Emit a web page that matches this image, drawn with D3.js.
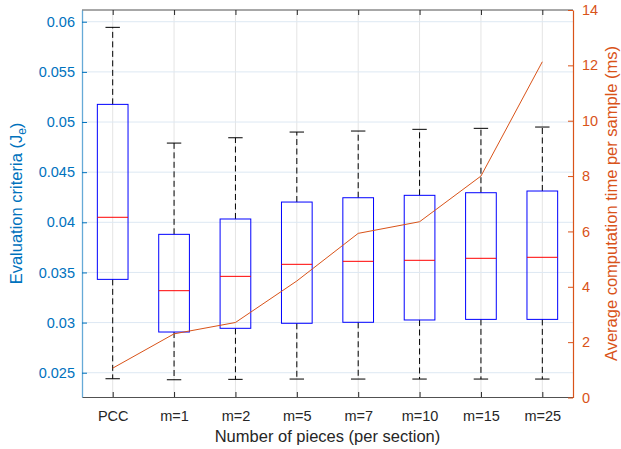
<!DOCTYPE html>
<html>
<head>
<meta charset="utf-8">
<script src="https://cdn.jsdelivr.net/npm/d3@7"></script>
<style>
  html, body { margin: 0; padding: 0; background: #fff; }
  svg { display: block; font-family: "Liberation Sans", Arial, Helvetica, sans-serif; }
</style>
</head>
<body>
<svg id="chart" width="621" height="449"></svg>
<script>
// Box statistics of the evaluation criterion for each piece count
const categories = ["PCC", "m=1", "m=2", "m=5", "m=7", "m=10", "m=15", "m=25"];
const whiskerLow = [0.02440, 0.02430, 0.02434, 0.02437, 0.02437, 0.02437, 0.02437, 0.02437];
const q1 = [0.03431, 0.02906, 0.02943, 0.02993, 0.03003, 0.03026, 0.03032, 0.03032];
const medians = [0.04050, 0.03318, 0.03461, 0.03581, 0.03611, 0.03621, 0.03641, 0.03651];
const q3 = [0.05176, 0.03880, 0.04033, 0.04202, 0.04245, 0.04269, 0.04295, 0.04312];
const whiskerHigh = [0.05944, 0.04790, 0.04843, 0.04900, 0.04910, 0.04927, 0.04937, 0.04950];
// Average computation time per sample (ms)
const compTime = [1.06, 2.30, 2.71, 4.21, 5.93, 6.35, 8.00, 12.13];
// Tick labels
const leftTicks = [0.025, 0.03, 0.035, 0.04, 0.045, 0.05, 0.055, 0.06];
const rightTicks = [0, 2, 4, 6, 8, 10, 12, 14];

const W = 621, H = 449;
const margin = { left: 82, right: 48, top: 10, bottom: 52 };
const x0 = margin.left, x1 = W - margin.right;
const y0 = margin.top, y1 = H - margin.bottom;

const leftColor = "#0072BD";
const rightColor = "#D95319";
const frameColor = "#262626";

const svg = d3.select("#chart");

const x = d3.scaleLinear().domain([0.5, categories.length + 0.5]).range([x0, x1]);
const yL = d3.scaleLinear().domain([0.02258, 0.06117]).range([y1, y0]);
const yR = d3.scaleLinear().domain([0, 14]).range([y1 + 0.5, y0]);

const idx = categories.map((_, i) => i + 1);

// Grid
const grid = svg.append("g");
grid.selectAll("line.v").data(idx).join("line")
  .attr("x1", d => x(d)).attr("x2", d => x(d))
  .attr("y1", y0).attr("y2", y1)
  .attr("stroke", "#e4e4e4").attr("stroke-width", 1);
grid.selectAll("line.h").data(leftTicks).join("line")
  .attr("x1", x0).attr("x2", x1)
  .attr("y1", d => yL(d)).attr("y2", d => yL(d))
  .attr("stroke", "#dde8f3").attr("stroke-width", 1);

// Boxes
const bw = (x(2) - x(1)) * 0.5;
const capW = bw * 0.47;
const boxes = svg.append("g");
idx.forEach((c, i) => {
  const cx = x(c);
  const g = boxes.append("g");
  // whiskers
  g.append("line").attr("x1", cx).attr("x2", cx)
    .attr("y1", yL(q3[i])).attr("y2", yL(whiskerHigh[i]))
    .attr("stroke", "#000").attr("stroke-width", 1).attr("stroke-dasharray", "6,3.5");
  g.append("line").attr("x1", cx).attr("x2", cx)
    .attr("y1", yL(q1[i])).attr("y2", yL(whiskerLow[i]))
    .attr("stroke", "#000").attr("stroke-width", 1).attr("stroke-dasharray", "6,3.5");
  // caps
  g.append("line").attr("x1", cx - capW / 2).attr("x2", cx + capW / 2)
    .attr("y1", yL(whiskerHigh[i])).attr("y2", yL(whiskerHigh[i]))
    .attr("stroke", "#000").attr("stroke-width", 1);
  g.append("line").attr("x1", cx - capW / 2).attr("x2", cx + capW / 2)
    .attr("y1", yL(whiskerLow[i])).attr("y2", yL(whiskerLow[i]))
    .attr("stroke", "#000").attr("stroke-width", 1);
  // box
  g.append("rect").attr("x", cx - bw / 2).attr("width", bw)
    .attr("y", yL(q3[i])).attr("height", yL(q1[i]) - yL(q3[i]))
    .attr("fill", "none").attr("stroke", "#0000ff").attr("stroke-width", 1);
  // median
  g.append("line").attr("x1", cx - bw / 2).attr("x2", cx + bw / 2)
    .attr("y1", yL(medians[i])).attr("y2", yL(medians[i]))
    .attr("stroke", "#ff0000").attr("stroke-width", 1);
});

// Computation time line (right axis)
const line = d3.line().x((d, i) => x(i + 1)).y(d => yR(d));
svg.append("path").datum(compTime)
  .attr("d", line).attr("fill", "none")
  .attr("stroke", rightColor).attr("stroke-width", 1);

// Frame: top and bottom
svg.append("line").attr("x1", x0).attr("x2", x1).attr("y1", y0).attr("y2", y0)
  .attr("stroke", frameColor).attr("stroke-width", 1).attr("opacity", 0.8);

// Bottom axis
const xAxis = d3.axisBottom(x).tickValues(idx).tickFormat(d => categories[d - 1])
  .tickSizeInner(-5).tickSizeOuter(0).tickPadding(14);
const gx = svg.append("g").attr("transform", `translate(0,${y1})`).call(xAxis);
gx.select(".domain").attr("stroke", frameColor).attr("opacity", 0.8);
gx.selectAll(".tick line").attr("stroke", frameColor);
gx.selectAll(".tick text").attr("fill", "#262626").attr("font-size", "14.5px");

// Top ticks
const xTop = d3.axisTop(x).tickValues(idx).tickFormat("").tickSizeInner(-5).tickSizeOuter(0);
const gxt = svg.append("g").attr("transform", `translate(0,${y0})`).call(xTop);
gxt.select(".domain").remove();
gxt.selectAll(".tick line").attr("stroke", frameColor);

// Left axis
const yAxisL = d3.axisLeft(yL).tickValues(leftTicks).tickFormat(d3.format("~g"))
  .tickSizeInner(-5).tickSizeOuter(0).tickPadding(7);
const gl = svg.append("g").attr("transform", `translate(${x0},0)`).call(yAxisL);
gl.select(".domain").attr("stroke", leftColor).attr("stroke-width", 1.3).attr("opacity", 0.6);
gl.selectAll(".tick line").attr("stroke", leftColor);
gl.selectAll(".tick text").attr("fill", leftColor).attr("font-size", "14.5px");

// Right axis
const yAxisR = d3.axisRight(yR).tickValues(rightTicks)
  .tickSizeInner(-5).tickSizeOuter(0).tickPadding(9);
const gr = svg.append("g").attr("transform", `translate(${x1},0)`).call(yAxisR);
gr.select(".domain").attr("stroke", rightColor).attr("stroke-width", 1.2);
gr.selectAll(".tick line").attr("stroke", rightColor);
gr.selectAll(".tick text").attr("fill", rightColor).attr("font-size", "14.5px");

// Axis titles
svg.append("text")
  .attr("x", (x0 + x1) / 2).attr("y", 442)
  .attr("text-anchor", "middle").attr("font-size", "16.5px").attr("fill", "#262626")
  .text("Number of pieces (per section)");

const tl = svg.append("text")
  .attr("transform", `translate(22,${(y0 + y1) / 2}) rotate(-90)`)
  .attr("text-anchor", "middle").attr("font-size", "16.5px").attr("fill", leftColor);
tl.append("tspan").text("Evaluation criteria (J");
tl.append("tspan").attr("font-size", "12px").attr("dy", 4).text("e");
tl.append("tspan").attr("dy", -4).text(")");

svg.append("text")
  .attr("transform", `translate(617,${(y0 + y1) / 2}) rotate(-90)`)
  .attr("text-anchor", "middle").attr("font-size", "16.5px").attr("fill", rightColor)
  .text("Average computation time per sample (ms)");
</script>
</body>
</html>
